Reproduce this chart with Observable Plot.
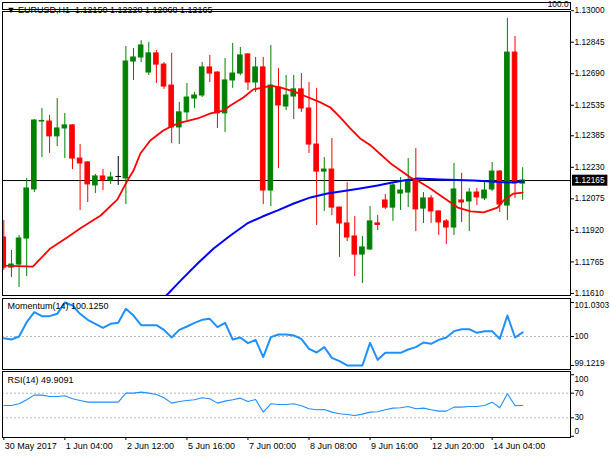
<!DOCTYPE html>
<html>
<head>
<meta charset="utf-8">
<script src="https://cdn.jsdelivr.net/npm/d3@7"></script>
<script src="https://cdn.jsdelivr.net/npm/@observablehq/plot@0.6"></script>
<style>
  html, body { margin: 0; padding: 0; background: #ffffff; }
  #chart { position: relative; width: 610px; height: 457px; overflow: hidden; background: #ffffff; }
  #chart svg { position: absolute; left: 0; }
</style>
</head>
<body>
<div id="chart"></div>
<script>
// ---------------- data ----------------
const symbolName = "EURUSD,H1";

const barOpen = [1.11885,1.11737,1.11752,1.11880,1.12121,1.12455,1.12455,1.12382,1.12421,1.12436,
  1.12273,1.12254,1.12141,1.12185,1.12165,1.12185,1.12175,1.12750,1.12770,1.12696,
  1.12790,1.12735,1.12632,1.12426,1.12500,1.12568,1.12583,1.12721,1.12696,1.12495,
  1.12657,1.12691,1.12785,1.12647,1.12721,1.12116,1.12622,1.12529,1.12578,1.12613,
  1.12519,1.12342,1.12209,1.12219,1.12032,1.11954,1.11890,1.11801,1.11826,1.11954,
  1.12067,1.12032,1.12101,1.12106,1.12165,1.12027,1.12077,1.12013,1.11964,1.11934,
  1.12067,1.12062,1.12106,1.12077,1.12121,1.12209,1.12042,1.12794,1.12150];
const barHigh = [1.11969,1.11821,1.11895,1.12175,1.12465,1.12519,1.12485,1.12568,1.12495,1.12440,
  1.12342,1.12258,1.12195,1.12219,1.12205,1.12283,1.12824,1.12814,1.12853,1.12844,
  1.12804,1.12745,1.12790,1.12549,1.12642,1.12598,1.12745,1.12780,1.12700,1.12765,
  1.12839,1.12819,1.12788,1.12770,1.12770,1.12829,1.12716,1.12681,1.12681,1.12691,
  1.12647,1.12618,1.12278,1.12372,1.12035,1.12155,1.11988,1.11890,1.12037,1.11993,
  1.12096,1.12155,1.12180,1.12273,1.12322,1.12106,1.12091,1.12016,1.11973,1.12249,
  1.12200,1.12126,1.12126,1.12165,1.12254,1.12214,1.12962,1.12873,1.12228];
const barLow = [1.11723,1.11688,1.11639,1.11693,1.12106,1.12278,1.12298,1.12332,1.12273,1.12219,
  1.12018,1.12057,1.12101,1.12116,1.12146,1.12141,1.12047,1.12657,1.12745,1.12681,
  1.12642,1.12613,1.12347,1.12342,1.12460,1.12519,1.12573,1.12647,1.12421,1.12401,
  1.12618,1.12681,1.12608,1.12598,1.12047,1.12037,1.12224,1.12509,1.12465,1.12500,
  1.12298,1.11944,1.12013,1.11993,1.11787,1.11865,1.11693,1.11659,1.11821,1.11919,
  1.12023,1.11964,1.12018,1.12032,1.11914,1.11954,1.11954,1.11895,1.11851,1.11895,
  1.11959,1.11914,1.12042,1.12067,1.12111,1.12008,1.11969,1.12077,1.12068];
const barClose = [1.11737,1.11752,1.11880,1.12126,1.12460,1.12458,1.12382,1.12421,1.12436,1.12273,
  1.12249,1.12146,1.12185,1.12165,1.12180,1.12185,1.12750,1.12770,1.12829,1.12790,
  1.12735,1.12627,1.12426,1.12500,1.12573,1.12583,1.12721,1.12691,1.12495,1.12657,
  1.12691,1.12780,1.12647,1.12721,1.12116,1.12632,1.12534,1.12583,1.12613,1.12519,
  1.12342,1.12209,1.12219,1.12032,1.11954,1.11885,1.11801,1.11836,1.11964,1.11947,
  1.12032,1.12141,1.12116,1.12165,1.12023,1.12077,1.12013,1.11959,1.11934,1.12121,
  1.12057,1.12106,1.12082,1.12116,1.12209,1.12047,1.12794,1.12150,1.12165];

// red moving average (bar index, price)
const maFastIdx = [0,3.8,6.1,8.3,10,12.7,14.9,16.2,17.0,17.9,19.2,20.9,22.2,23.2,25.4,27.1,28.8,29.7,31.4,32.7,
  34,35,36.3,38,39.3,41.5,42.8,44.1,45.4,46.7,48.1,49.4,50.7,52,53.3,54.2,55.9,57.6,59.5,61.2,62.9,64.7,65.5,66.8,68];
const maFastVal = [1.11747,1.11742,1.11831,1.11885,1.11929,1.11993,1.12072,1.12165,1.12214,1.12298,1.12362,1.12411,1.12436,1.12450,1.12470,1.12495,1.12509,1.12534,1.12573,1.12613,
  1.12622,1.12632,1.12622,1.12603,1.12583,1.12549,1.12524,1.12475,1.12421,1.12372,1.12337,1.12293,1.12249,1.12214,1.12180,1.12165,1.12126,1.12082,1.12032,1.12013,1.12008,1.12032,1.12067,1.12101,1.12106];

// blue moving average (bar index, price)
const maSlowIdx = [20.8,23.2,25.4,27.5,29.7,31.9,33.9,35.9,38,40.2,42.4,45,46.7,49,50.9,52.4,54.2,57.2,61.6,63.8,66,68.1];
const maSlowVal = [1.11580,1.11674,1.11757,1.11831,1.11895,1.11954,1.11988,1.12018,1.12052,1.12082,1.12101,1.12116,1.12126,1.12141,1.12155,1.12165,1.12175,1.12170,1.12165,1.12160,1.12155,1.12160];

const momentum = [99.95,99.909,100.0,100.434,100.737,100.616,100.616,100.687,101.0303,100.939,
  100.687,100.505,100.384,100.263,100.384,100.414,100.838,100.636,100.343,100.343,
  100.343,100.202,99.970,100.202,100.303,100.414,100.505,100.535,100.283,100.414,
  99.909,99.970,99.798,99.899,99.374,99.980,100.061,100.061,100.030,99.929,
  99.626,99.515,99.677,99.354,99.253,99.1219,99.1219,99.1219,99.808,99.293,
  99.505,99.505,99.505,99.606,99.677,99.818,99.778,99.899,99.970,100.162,
  100.222,100.222,100.111,100.162,100.162,99.929,100.636,99.970,100.125];

const rsi = [50.05,50.05,52.76,59.27,66.86,66.86,64.69,64.69,65.77,60.89,
  58.18,55.47,55.47,55.47,55.47,55.47,70.11,70.11,71.73,70.11,
  67.94,62.52,53.85,56.56,58.18,59.27,62.52,60.89,53.85,57.10,
  59.27,61.98,56.56,59.81,39.21,52.76,51.68,51.68,52.76,49.51,
  44.63,43.01,43.55,39.21,36.50,35.42,33.79,35.96,39.21,39.76,
  43.01,45.72,46.26,48.43,44.63,45.72,43.01,40.84,40.84,47.34,
  47.34,48.43,48.43,50.05,55.47,46.26,69.02,50.05,49.9091];

const priceTicks = [1.13000,1.12845,1.12690,1.12535,1.12385,1.12230,1.12075,1.11920,1.11765,1.11610];
const momentumTicks = [101.0303, 100, 99.1219];
const momentumLevels = [100];
const rsiTicks = [100, 70, 30, 0];
const rsiLevels = [70, 30];
const timeIdx = [0, 8, 16, 24, 32, 40, 48, 56, 64];
const timeLabels = ["30 May 2017","1 Jun 04:00","2 Jun 12:00","5 Jun 16:00","7 Jun 00:00","8 Jun 08:00","9 Jun 16:00","12 Jun 20:00","14 Jun 04:00"];
const topWindowLabel = ["100.0"];

// ---------------- chart ----------------
const FONT = '"Liberation Sans", Arial, "DejaVu Sans", sans-serif';
const W = 610, ML = 2, MR = 40;
const xDomain = [-0.17, 74.27];
const UP = "#008000", DOWN = "#ff0000", FLAT = "#000000";
const HALF = 0.3;
const AXIS_FONT = 8.3;

const candles = barOpen.map((o, i) => ({i, o, h: barHigh[i], l: barLow[i], c: barClose[i]}));
const colOf = d => d.c > d.o ? UP : d.c < d.o ? DOWN : FLAT;
const lastBar = candles[candles.length - 1];
const maFast = maFastIdx.map((i, k) => ({i, v: maFastVal[k]}));
const maSlow = maSlowIdx.map((i, k) => ({i, v: maSlowVal[k]}));
const momRows = momentum.map((v, i) => ({i, v}));
const rsiRows = rsi.map((v, i) => ({i, v}));

const base = (height, mt, mb, yDomain) => ({
  width: W, height, marginLeft: ML, marginRight: MR, marginTop: mt, marginBottom: mb,
  x: {domain: xDomain, axis: null, label: null},
  y: {domain: yDomain, axis: null, label: null},
  color: {type: "identity"},
  style: {background: "transparent", overflow: "visible", fontFamily: FONT, fontSize: "9px", color: "#000"}
});

const rightLabels = (vals, fmt, dyOf) => vals.map((v, k) =>
  Plot.text([v], {y: d => d, frameAnchor: "right", dx: 4, dy: dyOf(k, vals.length), textAnchor: "start",
    text: fmt, fill: "#000", fontSize: AXIS_FONT}));

const rightTicks = (vals) => Plot.axisY(vals, {anchor: "right", tickSize: 3, tickFormat: () => "", label: null, stroke: "#000"});

const mainPlot = Plot.plot({
  ...base(297, 11, 2, [1.115998, 1.129960]),
  marks: [
    Plot.ruleY([lastBar.c], {stroke: "#000", strokeWidth: 1}),
    Plot.ruleX(candles, {x: "i", y1: "l", y2: "h", stroke: colOf, strokeWidth: 1, clip: true}),
    Plot.rect(candles.filter(d => d.o !== d.c), {
      x1: d => d.i - HALF, x2: d => d.i + HALF,
      y1: d => Math.min(d.o, d.c), y2: d => Math.max(d.o, d.c),
      fill: colOf, stroke: colOf, strokeWidth: 1, clip: true}),
    Plot.link(candles.filter(d => d.o === d.c), {
      x1: d => d.i - HALF - 0.07, x2: d => d.i + HALF + 0.07, y1: "o", y2: "o", stroke: FLAT, strokeWidth: 1}),
    Plot.line(maSlow, {x: "i", y: "v", stroke: "#0000ff", strokeWidth: 2, clip: true}),
    Plot.line(maFast, {x: "i", y: "v", stroke: "#ff0000", strokeWidth: 1.8, clip: true}),
    Plot.frame({stroke: "#000", strokeWidth: 1}),
    rightTicks(priceTicks),
    ...rightLabels(priceTicks, d => d.toFixed(5), () => 0),
    Plot.text([lastBar.c], {y: d => d, frameAnchor: "right", dx: 4, textAnchor: "start", fontSize: AXIS_FONT,
      text: d => d.toFixed(5), fill: "#ffffff", ariaLabel: "price-tag"}),
    Plot.text([`\u25BC ${symbolName}  ${lastBar.o.toFixed(5)} ${lastBar.h.toFixed(5)} ${lastBar.l.toFixed(5)} ${lastBar.c.toFixed(5)}`],
      {frameAnchor: "top-left", dx: 4, dy: -1, textAnchor: "start", lineAnchor: "middle", text: d => d, fill: "#000"})
  ]
});

const topWinPlot = Plot.plot({
  ...base(11, 2, 2, [0, 1]),
  marks: [
    Plot.frame({stroke: "#000", strokeWidth: 1}),
    Plot.text(topWindowLabel, {frameAnchor: "right", dx: -2, dy: -1.5, textAnchor: "end", text: d => d,
      fill: "#000", fontSize: AXIS_FONT})
  ]
});

const momPlot = Plot.plot({
  ...base(73, 1, 1, [99.0003, 101.1512]),
  marks: [
    Plot.ruleY(momentumLevels, {stroke: "#b8b8b8", strokeDasharray: "2,2"}),
    Plot.line(momRows, {x: "i", y: "v", stroke: "#1e90ff", strokeWidth: 2}),
    Plot.frame({stroke: "#000", strokeWidth: 1}),
    rightTicks(momentumTicks),
    ...rightLabels(momentumTicks, d => d === 100 ? "100" : d.toFixed(4), (k, n) => k === 0 ? 3 : k === n - 1 ? -2 : 0),
    Plot.text([`Momentum(14) ${momentum[momentum.length - 1].toFixed(4)}`],
      {frameAnchor: "top-left", dx: 5, dy: 8, textAnchor: "start", lineAnchor: "middle", text: d => d, fill: "#000"})
  ]
});

const rsiPlot = Plot.plot({
  ...base(87, 1, 20, [-2.03, 105.28]),
  marks: [
    Plot.ruleY(rsiLevels, {stroke: "#b8b8b8", strokeDasharray: "2,2"}),
    Plot.line(rsiRows, {x: "i", y: "v", stroke: "#1e90ff", strokeWidth: 1.1}),
    Plot.frame({stroke: "#000", strokeWidth: 1}),
    rightTicks(rsiTicks),
    ...rightLabels(rsiTicks, d => String(d), (k, n) => k === 0 ? 4.7 : k === n - 1 ? -5 : 0),
    Plot.axisX(timeIdx, {anchor: "bottom", tickSize: 3, tickFormat: () => "", label: null, stroke: "#000"}),
    Plot.text(timeIdx, {x: d => d, frameAnchor: "bottom", dx: 1, dy: 9, textAnchor: "start", lineAnchor: "middle",
      text: (d, i) => timeLabels[i], fill: "#000"}),
    Plot.text([`RSI(14) ${rsi[rsi.length - 1].toFixed(4)}`],
      {frameAnchor: "top-left", dx: 5, dy: 9, textAnchor: "start", lineAnchor: "middle", text: d => d, fill: "#000"})
  ]
});

const holder = document.getElementById("chart");
[[mainPlot, 0], [topWinPlot, 0], [momPlot, 297], [rsiPlot, 370]].forEach(([svg, t]) => {
  svg.style.position = "absolute";
  svg.style.top = t + "px";
  svg.style.left = "0px";
  svg.style.maxWidth = "none";
  holder.appendChild(svg);
});

// black box behind the current price label
(function () {
  const label = lastBar.c.toFixed(5);
  let g = mainPlot.querySelector('[aria-label="price-tag"]');
  let t = g ? g.querySelector("text") : null;
  if (!t) {
    const all = [...mainPlot.querySelectorAll("text")].filter(e => e.textContent === label);
    t = all[all.length - 1];
    if (t) { t.setAttribute("fill", "#ffffff"); g = t.parentNode; }
  }
  if (!t) return;
  const sb = mainPlot.getBoundingClientRect();
  const tb = t.getBoundingClientRect();
  const r = document.createElementNS("http://www.w3.org/2000/svg", "rect");
  r.setAttribute("x", tb.left - sb.left - 2.5);
  r.setAttribute("y", tb.top - sb.top - 0.5);
  r.setAttribute("width", tb.width + 5);
  r.setAttribute("height", tb.height + 1);
  r.setAttribute("fill", "#000000");
  g.parentNode.insertBefore(r, g);
})();
</script>
</body>
</html>
